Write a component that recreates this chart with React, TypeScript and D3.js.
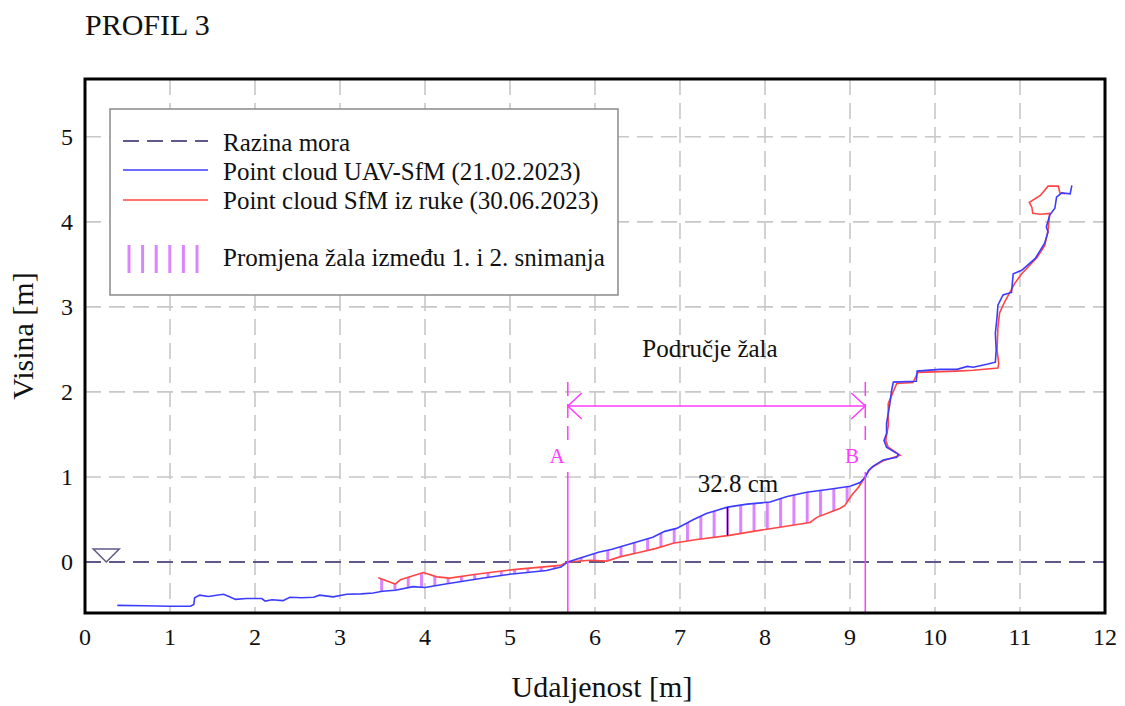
import React from 'react';
import * as d3 from 'd3';

const titleText = 'PROFIL 3';
const xLabel = 'Udaljenost [m]';
const yLabel = 'Visina [m]';
const xTicks = [0, 1, 2, 3, 4, 5, 6, 7, 8, 9, 10, 11, 12];
const yTicks = [0, 1, 2, 3, 4, 5];

// Point cloud UAV-SfM (21.02.2023)
const blueX = [0.38, 0.7, 1.0, 1.24, 1.28, 1.29, 1.35, 1.45, 1.63, 1.7, 1.77, 1.9, 2.08, 2.12, 2.2, 2.33, 2.41, 2.55, 2.69, 2.76, 2.92, 3.08, 3.25, 3.39, 3.5, 3.65, 3.86, 4.0, 4.26, 4.65, 5.0, 5.43, 5.6, 5.68, 6.04, 6.2, 6.49, 6.68, 6.82, 6.96, 7.16, 7.31, 7.56, 7.79, 8.06, 8.26, 8.49, 8.76, 9.0, 9.12, 9.18, 9.22, 9.27, 9.39, 9.55, 9.57, 9.43, 9.4, 9.43, 9.43, 9.47, 9.49, 9.51, 9.78, 9.79, 10.06, 10.26, 10.38, 10.45, 10.61, 10.71, 10.72, 10.71, 10.73, 10.74, 10.8, 10.9, 10.92, 11.02, 11.18, 11.29, 11.33, 11.31, 11.35, 11.41, 11.43, 11.49, 11.59, 11.61];
const blueY = [-0.51, -0.515, -0.52, -0.52, -0.5, -0.42, -0.39, -0.405, -0.38, -0.41, -0.44, -0.43, -0.43, -0.46, -0.445, -0.455, -0.415, -0.42, -0.415, -0.39, -0.41, -0.38, -0.375, -0.365, -0.345, -0.333, -0.29, -0.3, -0.255, -0.195, -0.145, -0.1, -0.06, 0, 0.115, 0.15, 0.235, 0.29, 0.36, 0.395, 0.5, 0.57, 0.645, 0.68, 0.705, 0.77, 0.82, 0.855, 0.89, 0.935, 1.0, 1.08, 1.125, 1.2, 1.23, 1.265, 1.35, 1.43, 1.51, 1.63, 1.865, 2.02, 2.115, 2.125, 2.245, 2.265, 2.265, 2.3, 2.29, 2.325, 2.35, 2.49, 2.69, 2.88, 3.02, 3.14, 3.17, 3.39, 3.43, 3.57, 3.75, 3.88, 3.94, 4.08, 4.16, 4.29, 4.34, 4.33, 4.43];

// Point cloud SfM iz ruke (30.06.2023)
const redX = [3.45, 3.65, 3.71, 3.98, 4.14, 4.29, 4.6, 5.04, 5.59, 5.68, 5.94, 6.14, 6.29, 6.53, 6.72, 6.92, 7.2, 7.56, 8.02, 8.53, 8.61, 8.88, 8.94, 9.02, 9.1, 9.16, 9.22, 9.27, 9.39, 9.59, 9.45, 9.42, 9.45, 9.45, 9.55, 9.74, 9.8, 10.26, 10.45, 10.74, 10.75, 10.73, 10.74, 10.76, 10.82, 10.94, 11.02, 11.2, 11.29, 11.33, 11.35, 11.24, 11.15, 11.14, 11.11, 11.24, 11.33, 11.45, 11.47, 11.53];
const redY = [-0.185, -0.26, -0.21, -0.125, -0.175, -0.19, -0.145, -0.09, -0.04, 0, 0.02, 0.01, 0.06, 0.115, 0.16, 0.22, 0.265, 0.31, 0.385, 0.465, 0.525, 0.63, 0.665, 0.785, 0.88, 0.97, 1.07, 1.12, 1.19, 1.255, 1.35, 1.43, 1.6, 1.865, 2.1, 2.11, 2.23, 2.245, 2.255, 2.28, 2.335, 2.49, 2.76, 2.93, 3.06, 3.28, 3.39, 3.58, 3.72, 3.9, 4.1, 4.09, 4.1, 4.17, 4.23, 4.31, 4.42, 4.42, 4.34, 4.33];

const seaLevel = 0;
const seaMarkX = 0.25;
const sectionA = 5.68;
const sectionB = 9.18;
const changeStart = 3.45;
const markX = 7.56;
const beachLabel = 'Područje žala';
const diffLabel = '32.8 cm';
const legendLabels = [
  'Razina mora',
  'Point cloud UAV-SfM (21.02.2023)',
  'Point cloud SfM iz ruke (30.06.2023)',
  'Promjena žala između 1. i 2. snimanja',
];

const BLUE = '#3c3cff';
const RED = '#ff4646';
const MAG = '#ff3cff';
const HATCH = '#d985ff';
const SEA = '#5f5888';
const GRID = '#c8c8c8';
const FONT = '"Liberation Serif", "Times New Roman", serif';

function interp(xs: number[], ys: number[], v: number): number {
  for (let i = 0; i < xs.length - 1; i++) {
    if (xs[i] <= v && xs[i + 1] >= v) {
      const t = (v - xs[i]) / (xs[i + 1] - xs[i] || 1);
      return ys[i] + t * (ys[i + 1] - ys[i]);
    }
  }
  return ys[ys.length - 1];
}

export default function App() {
  const W = 1125, H = 706;
  const L = 85, R = 1105, T = 79, B = 613;
  const x = d3.scaleLinear().domain([0, 12]).range([L, R]);
  const y = d3.scaleLinear().domain([-0.6, 5.68]).range([B, T]);

  const blue: [number, number][] = blueX.map((v, i) => [v, blueY[i]]);
  const red: [number, number][] = redX.map((v, i) => [v, redY[i]]);
  const line = d3.line<[number, number]>().x(d => x(d[0])).y(d => y(d[1]));

  // hatch polygon between the two profiles in the change zone
  const bEnd = blueX.indexOf(sectionB);
  const blueSeg = blue.slice(0, bEnd + 1).filter(d => d[0] >= changeStart);
  const rEnd = redX.findIndex(v => v > sectionB) - 1;
  const redSeg = red.slice(0, rEnd + 1);
  const poly: [number, number][] = [
    [changeStart, interp(blueX.slice(0, bEnd + 1), blueY.slice(0, bEnd + 1), changeStart)],
    ...redSeg,
    ...blueSeg.slice().reverse(),
  ];
  const polyPath = line(poly) + 'Z';

  const mBlue = interp(blueX.slice(0, bEnd + 1), blueY.slice(0, bEnd + 1), markX);
  const mRed = interp(redX.slice(0, rEnd + 1), redY.slice(0, rEnd + 1), markX);

  const xA = x(sectionA), xB = x(sectionB);
  const arrowY = 406;
  const hatchStep = 13.3;

  return (
    <svg width={W} height={H} style={{ position: 'absolute', left: 0, top: 0, background: '#fff' }} fontFamily={FONT}>
      <defs>
        <clipPath id="plot">
          <rect x={L} y={T} width={R - L} height={B - T} />
        </clipPath>
        <pattern id="hatch" patternUnits="userSpaceOnUse" x={x(3.49) - 1.5} y={0} width={hatchStep} height={H}>
          <rect x={0} y={0} width={3} height={H} fill={HATCH} />
        </pattern>
      </defs>
      <rect x={0} y={0} width={W} height={H} fill="#fff" />
      <text x={85} y={35} fontSize={30} fill="#111">{titleText}</text>

      {/* grid */}
      <g clipPath="url(#plot)" stroke={GRID} strokeWidth={1.6} strokeDasharray="16,8">
        {xTicks.filter(t => t > 0 && t < 12).map(t => (
          <line key={'gx' + t} x1={x(t)} x2={x(t)} y1={T} y2={B} />
        ))}
        {yTicks.filter(t => t > 0).map(t => (
          <line key={'gy' + t} x1={L} x2={R} y1={y(t)} y2={y(t)} />
        ))}
      </g>

      {/* sea level */}
      <line x1={L} x2={R} y1={y(seaLevel)} y2={y(seaLevel)} stroke={SEA} strokeWidth={2} strokeDasharray="16,8" />
      <path d={`M${x(seaMarkX) - 13},${y(seaLevel) - 13} L${x(seaMarkX) + 13},${y(seaLevel) - 13} L${x(seaMarkX)},${y(seaLevel)} Z`} fill="none" stroke={SEA} strokeWidth={1.5} />

      {/* change hatch */}
      <path d={polyPath} fill="url(#hatch)" stroke="none" clipPath="url(#plot)" />

      {/* profiles */}
      <g clipPath="url(#plot)" fill="none">
        <path d={line(red) || ''} stroke={RED} strokeWidth={1.6} />
        <path d={line(blue) || ''} stroke={BLUE} strokeWidth={1.6} />
      </g>

      {/* measurement */}
      <line x1={x(markX)} x2={x(markX)} y1={y(mBlue)} y2={y(mRed)} stroke="#111" strokeWidth={1.2} />
      <text x={738} y={492} fontSize={25} textAnchor="middle" fill="#111">{diffLabel}</text>

      {/* sections A and B */}
      {[xA, xB].map((xx, i) => (
        <g key={'sec' + i} stroke={MAG} strokeWidth={1.5}>
          <line x1={xx} x2={xx} y1={382} y2={444} strokeDasharray="14,8" />
          <line x1={xx} x2={xx} y1={472} y2={B} />
        </g>
      ))}
      <text x={557} y={463} fontSize={21} textAnchor="middle" fill={MAG}>A</text>
      <text x={852} y={463} fontSize={21} textAnchor="middle" fill={MAG}>B</text>
      <g stroke={MAG} strokeWidth={1.5} fill="none">
        <line x1={xA} x2={xB} y1={arrowY} y2={arrowY} />
        <path d={`M${xA + 14},${arrowY - 13} L${xA},${arrowY} L${xA + 14},${arrowY + 13}`} />
        <path d={`M${xB - 14},${arrowY - 13} L${xB},${arrowY} L${xB - 14},${arrowY + 13}`} />
      </g>
      <text x={710} y={357} fontSize={25} textAnchor="middle" fill="#111">{beachLabel}</text>

      {/* frame */}
      <rect x={L} y={T} width={R - L} height={B - T} fill="none" stroke="#000" strokeWidth={3} />

      {/* tick labels */}
      {xTicks.map(t => (
        <text key={'tx' + t} x={x(t)} y={645} fontSize={24} textAnchor="middle" fill="#111">{t}</text>
      ))}
      {yTicks.map(t => (
        <text key={'ty' + t} x={73} y={y(t) + 8} fontSize={24} textAnchor="end" fill="#111">{t}</text>
      ))}

      {/* axis titles */}
      <text x={602} y={697} fontSize={30} textAnchor="middle" fill="#111">{xLabel}</text>
      <text transform={`translate(33,336) rotate(-90)`} fontSize={30} textAnchor="middle" fill="#111">{yLabel}</text>

      {/* legend */}
      <g>
        <rect x={110} y={109} width={508} height={186} fill="#fff" stroke="#8a8a8a" strokeWidth={1.5} />
        <line x1={123} x2={208} y1={141} y2={141} stroke={SEA} strokeWidth={2} strokeDasharray="16,8" />
        <line x1={123} x2={208} y1={170} y2={170} stroke={BLUE} strokeWidth={1.6} />
        <line x1={123} x2={208} y1={200} y2={200} stroke={RED} strokeWidth={1.6} />
        {[0, 1, 2, 3, 4, 5].map(k => (
          <line key={'lh' + k} x1={129 + k * 13.6} x2={129 + k * 13.6} y1={245} y2={273} stroke={HATCH} strokeWidth={3} />
        ))}
        <text x={223} y={151} fontSize={25} fill="#111">{legendLabels[0]}</text>
        <text x={223} y={180} fontSize={25} fill="#111">{legendLabels[1]}</text>
        <text x={223} y={209} fontSize={25} fill="#111">{legendLabels[2]}</text>
        <text x={223} y={266} fontSize={25} fill="#111">{legendLabels[3]}</text>
      </g>
    </svg>
  );
}
